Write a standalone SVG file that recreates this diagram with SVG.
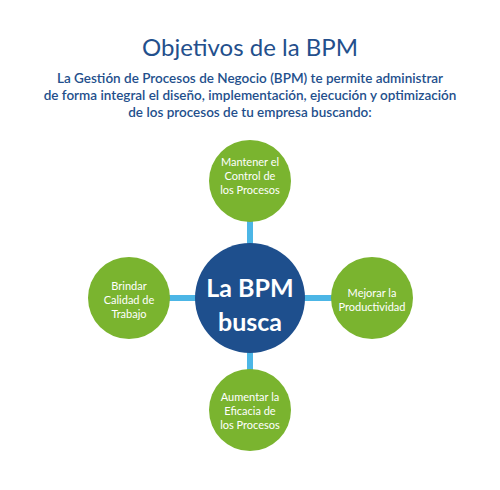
<svg xmlns="http://www.w3.org/2000/svg" width="500" height="490" viewBox="0 0 500 490">
<style>
.title{font-family:Lato,"Liberation Sans",sans-serif;font-size:24px;fill:#234f8c;text-anchor:middle}
.sub{font-family:Lato,"Liberation Sans",sans-serif;font-size:13.5px;font-weight:600;fill:#234f8c;text-anchor:middle}
.g{fill:#7ab42f}
.lbl{font-family:Lato,"Liberation Sans",sans-serif;font-size:11px;fill:#fff;text-anchor:middle}
.big{font-family:Lato,"Liberation Sans",sans-serif;font-size:25px;font-weight:bold;fill:#fff;text-anchor:middle}
.c{stroke:#4cb6e6;stroke-width:6;fill:none}
</style>
<rect width="500" height="490" fill="#fff"/>
<text class="title" x="250" y="56">Objetivos de la BPM</text>
<text class="sub" x="250" y="83">La Gestión de Procesos de Negocio (BPM) te permite administrar</text>
<text class="sub" x="250" y="100">de forma integral el diseño, implementación, ejecución y optimización</text>
<text class="sub" x="250" y="117">de los procesos de tu empresa buscando:</text>
<g id="connectors">
<line class="c" x1="250" y1="215" x2="250" y2="375"/>
<line class="c" x1="165" y1="298" x2="335" y2="298"/>
</g>
<g id="top">
<circle class="g" cx="250" cy="181" r="41"/>
<text class="lbl" x="250" y="166">Mantener el</text>
<text class="lbl" x="250" y="180">Control de</text>
<text class="lbl" x="250" y="194">los Procesos</text>
</g>
<g id="left">
<circle class="g" cx="129" cy="298" r="41"/>
<text class="lbl" x="129" y="290">Brindar</text>
<text class="lbl" x="129" y="304">Calidad de</text>
<text class="lbl" x="129" y="318">Trabajo</text>
</g>
<g id="right">
<circle class="g" cx="372" cy="298" r="41"/>
<text class="lbl" x="372" y="297">Mejorar la</text>
<text class="lbl" x="372" y="311">Productividad</text>
</g>
<g id="bottom">
<circle class="g" cx="250" cy="410" r="41"/>
<text class="lbl" x="250" y="401">Aumentar la</text>
<text class="lbl" x="250" y="415">Eficacia de</text>
<text class="lbl" x="250" y="429">los Procesos</text>
</g>
<g id="center">
<circle cx="250" cy="298" r="55" fill="#1e4f8d"/>
<text class="big" x="250" y="297">La BPM</text>
<text class="big" x="250" y="331">busca</text>
</g>
</svg>
